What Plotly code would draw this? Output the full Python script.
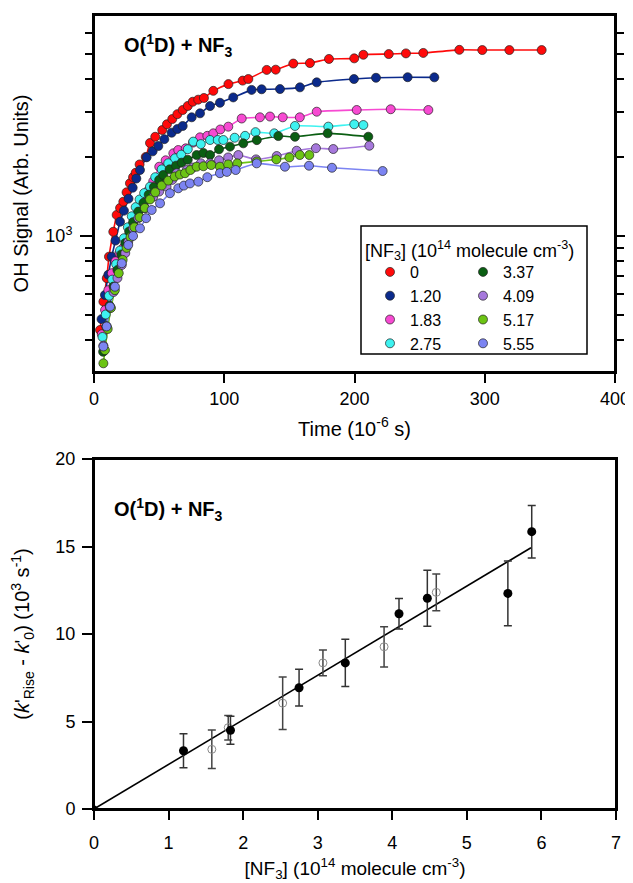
import plotly.graph_objects as go

# The page body adds an 8 px margin, so the figure is 8 px smaller than the window
W, H = 625, 883 - 8
OFF = 8
FONT = "Liberation Sans, Arial, sans-serif"

# ---------------- top panel data: OH signal vs time ----------------
conc_labels = ["0", "1.20", "1.83", "2.75", "3.37", "4.09", "5.17", "5.55"]
series_colors = ["#ff0a0a", "#0b2a8c", "#f74ad2", "#3ef2f0",
                 "#0a5e12", "#a678dc", "#6cc414", "#7c84f2"]

t_0 = [4.6, 7.2, 9.8, 11.5, 14.8, 17.4, 20, 22.5, 25, 27.6, 30, 32, 35, 39.7, 43, 47,
       52.4, 56, 60.1, 64, 68.1, 72, 75.8, 80, 84.4, 91.6, 103.2, 114.1, 118.5, 132.6,
       139.5, 153, 165.8, 180.4, 199.8, 206.8, 226.3, 239.5, 252.8, 280.5, 298.1, 318.9, 343.7]
s_0 = [436, 560, 689, 833, 1038, 1204, 1280, 1353, 1470, 1592, 1680, 1747, 1880, 2008, 2272, 2400,
       2547, 2680, 2807, 2930, 3040, 3150, 3270, 3330, 3380, 3600, 3820, 3940, 3996, 4330,
       4340, 4580, 4600, 4770, 4795, 4950, 4980, 5010, 5030, 5170, 5160, 5160, 5160]

t_1 = [5.8, 8.4, 11, 13.6, 16.5, 20, 23, 26.5, 29.7, 32.5, 35.3, 40.4, 45, 49.4, 54, 59.6,
       64, 68.1, 75, 81.4, 89.1, 96.7, 106.9, 121, 128.7, 142.8, 158.1, 171, 199.6, 216.5, 240.8, 261.3]
s_1 = [480, 594, 710, 833, 960, 1134, 1250, 1390, 1531, 1660, 1790, 2002, 2110, 2213, 2350, 2488,
       2570, 2640, 2850, 2952, 3148, 3240, 3397, 3630, 3650, 3657, 3713, 3880, 3996, 4040, 4060, 4056]

t_2 = [6, 8.5, 11, 13.7, 16.5, 19.5, 22.5, 25, 27.5, 30.1, 34, 37.8, 42, 45.5, 50.1, 55, 60.9,
       64.7, 70.4, 76, 81.4, 87, 91.6, 97, 103.1, 113.4, 127.4, 135.1, 144.9, 158, 171, 201.7, 227.8, 256.7]
s_2 = [420, 520, 620, 720, 800, 860, 900, 980, 1040, 1102, 1250, 1374, 1500, 1620, 1843, 1950, 2074,
       2135, 2167, 2280, 2388, 2420, 2474, 2560, 2624, 2820, 2850, 2870, 2850, 2850, 2995, 3040, 3060, 3040]

t_3 = [6.5, 9, 11.5, 14, 17, 20, 23, 26, 29, 32, 35, 38.5, 43, 47, 52, 57, 62.2, 67, 72, 76.2,
       82, 89.1, 95, 99.3, 108, 116, 124, 138.4, 154.3, 179.9, 199.8, 206.8]
s_3 = [410, 500, 590, 680, 780, 880, 980, 1080, 1190, 1290, 1380, 1460, 1545, 1680, 1800, 1900,
       1985, 2050, 2150, 2300, 2250, 2333, 2333, 2333, 2380, 2420, 2500, 2474, 2640, 2625, 2680, 2662]

t_4 = [7, 9.5, 12, 15, 18, 21, 24, 27, 30, 34, 38, 42, 46, 50, 53.2, 58, 63, 67.3, 72, 78.8,
       84, 89.1, 96, 104.4, 114.6, 125, 141.5, 154.3, 179.4, 210.6]
s_4 = [360, 450, 540, 640, 740, 850, 940, 1040, 1130, 1240, 1340, 1440, 1540, 1640, 1713, 1800,
       1860, 1910, 1960, 2043, 2080, 2043, 2150, 2200, 2265, 2330, 2415, 2400, 2474, 2402]

t_5 = [7.2, 9.7, 12.5, 15, 18, 21.3, 24, 26.3, 30, 34, 39.2, 45.5, 50, 55.7, 60, 63.5, 71.2,
       76, 82, 89.1, 96, 103, 110.8, 124.4, 140.3, 155.6, 170.4, 183.7, 211.4]
s_5 = [380, 450, 530, 610, 690, 774, 860, 951, 1070, 1170, 1276, 1414, 1480, 1545, 1640, 1740, 1790,
       1830, 1900, 1898, 1950, 2000, 2043, 1966, 2025, 2122, 2170, 2154, 2218]

t_6 = [7.2, 8.4, 10.5, 13, 16, 19, 22, 25, 28, 31, 35, 39, 43, 47, 52, 57, 62, 66, 69.9, 74,
       78.8, 84, 90, 96.7, 103, 110, 125, 140, 150, 158, 165.3]
s_6 = [325, 365, 440, 530, 620, 720, 810, 900, 990, 1080, 1180, 1280, 1380, 1470, 1560, 1630,
       1690, 1720, 1740, 1790, 1843, 1850, 1870, 1843, 1880, 1898, 1930, 1966, 2000, 2043, 2043]

t_7 = [7.2, 9.7, 12.3, 16.1, 21.3, 26.3, 30, 35.3, 40, 44.3, 50.7, 58.3, 64.7, 69, 73.7, 80.1,
       87, 96.7, 102, 108.8, 124.9, 146.6, 165.1, 182.7, 221.6]
s_7 = [377, 450, 536, 639, 786, 924, 1000, 1070, 1170, 1258, 1334, 1458, 1523, 1560, 1590, 1615,
       1680, 1740, 1760, 1790, 1898, 1843, 1859, 1826, 1774]

times = [t_0, t_1, t_2, t_3, t_4, t_5, t_6, t_7]
signals = [s_0, s_1, s_2, s_3, s_4, s_5, s_6, s_7]

top_xticks = [0, 100, 200, 300, 400]
top_ymajor = [1000]
top_ymajor_text = ["10<sup>3</sup>"]
top_yminor = [400, 500, 600, 700, 800, 900, 2000, 3000, 4000, 5000, 6000]

# ---------------- bottom panel data: k'rise - k'0 vs [NF3] ----------------
origin_x = [0]
origin_y = [0]
filled_x = [1.20, 1.83, 2.75, 3.37, 4.09, 4.47, 5.55, 5.87]
filled_y = [3.33, 4.50, 6.93, 8.35, 11.16, 12.04, 12.32, 15.85]
filled_err = [0.97, 0.80, 1.05, 1.35, 0.87, 1.60, 1.85, 1.50]
open_x = [1.58, 1.80, 2.53, 3.07, 3.89, 4.59]
open_y = [3.41, 4.65, 6.05, 8.35, 9.27, 12.38]
open_err = [1.10, 0.70, 1.50, 0.73, 1.15, 1.05]
fit_x = [0, 5.86]
fit_y = [0, 14.93]

# ---------------- layout helpers (window pixel -> paper) ----------------
def px(x):
    return (x - OFF) / W

def py(y):
    return 1 - (y - OFF) / H

fig = go.Figure()

# fitted curves through each kinetic trace (no legend entry)
for lab, col, tt, ss in zip(conc_labels, series_colors, times, signals):
    fig.add_trace(go.Scatter(
        x=tt, y=ss, mode="lines", showlegend=False, hoverinfo="skip",
        line=dict(color=col, width=1.6, shape="spline", smoothing=0.5),
        xaxis="x", yaxis="y"))

# data markers (legend entries)
for i, (lab, col, tt, ss) in enumerate(zip(conc_labels, series_colors, times, signals)):
    fig.add_trace(go.Scatter(
        x=tt, y=ss, mode="markers", name=lab,
        marker=dict(color=col, size=9, line=dict(color="#222222", width=0.7)),
        xaxis="x", yaxis="y",
        legend="legend" if i < 4 else "legend2",
    ))

# bottom panel
fig.add_trace(go.Scatter(x=fit_x, y=fit_y, mode="lines", line=dict(color="black", width=1.6),
                         xaxis="x2", yaxis="y2", showlegend=False))
fig.add_trace(go.Scatter(
    x=open_x, y=open_y, mode="markers", showlegend=False,
    marker=dict(symbol="circle-open", size=8, color="#8a8a8a", line=dict(width=1)),
    error_y=dict(type="data", array=open_err, color="#444444", thickness=1.5, width=4),
    xaxis="x2", yaxis="y2"))
fig.add_trace(go.Scatter(
    x=filled_x, y=filled_y, mode="markers", showlegend=False,
    marker=dict(symbol="circle", size=9, color="black"),
    error_y=dict(type="data", array=filled_err, color="#333333", thickness=1.5, width=4),
    xaxis="x2", yaxis="y2"))
fig.add_trace(go.Scatter(x=origin_x, y=origin_y, mode="markers", showlegend=False,
                         marker=dict(size=7, color="black"), xaxis="x2", yaxis="y2"))

axis_common = dict(showline=True, linecolor="black", linewidth=2, showgrid=False,
                   zeroline=False, ticks="outside", tickcolor="black", tickwidth=1.5,
                   automargin=False,
                   tickfont=dict(family=FONT, size=18, color="black"))

frame = dict(color="black", width=2)

fig.update_layout(
    width=W, height=H,
    margin=dict(l=0, r=0, t=0, b=0, autoexpand=False),
    paper_bgcolor="white", plot_bgcolor="white",
    font=dict(family=FONT, size=18, color="black"),
    xaxis=dict(domain=[px(94), px(615)], anchor="y", range=[0, 400],
               tickmode="array", tickvals=top_xticks, ticklen=9, mirror=True,
               ticklabelstandoff=0,
               title=dict(text="Time (10<sup>-6</sup> s)", standoff=14,
                          font=dict(family=FONT, size=20)),
               **axis_common),
    yaxis=dict(domain=[py(372), py(15)], anchor="x", type="log",
               range=[2.4786, 3.847], tickmode="array", tickvals=top_ymajor,
               ticktext=top_ymajor_text, ticklen=12, mirror="ticks",
               ticklabelstandoff=4,
               minor=dict(tickmode="array", tickvals=top_yminor, ticklen=7,
                          ticks="outside", tickcolor="black", tickwidth=1.5),
               title=dict(text="OH Signal (Arb. Units)", standoff=11,
                          font=dict(family=FONT, size=20)),
               **axis_common),
    xaxis2=dict(domain=[px(94), px(616)], anchor="y2", range=[0, 7], dtick=1,
                ticklen=9, mirror=True, ticklabelstandoff=7,
                title=dict(text="[NF<sub>3</sub>] (10<sup>14</sup> molecule cm<sup>-3</sup>)",
                           standoff=10, font=dict(family=FONT, size=19)),
                **axis_common),
    yaxis2=dict(domain=[py(809), py(459)], anchor="x2", range=[0, 20], dtick=5,
                ticklen=10, mirror=True, ticklabelstandoff=3,
                title=dict(text="(<i>k</i>'<sub>Rise</sub> - <i>k</i>'<sub>0</sub>) (10<sup>3</sup> s<sup>-1</sup>)",
                           standoff=21, font=dict(family=FONT, size=20)),
                **axis_common),
    legend=dict(x=px(370), y=py(255), xanchor="left", yanchor="top",
                bgcolor="rgba(0,0,0,0)", borderwidth=0, tracegroupgap=0,
                font=dict(family=FONT, size=16), itemwidth=30),
    legend2=dict(x=px(463), y=py(255), xanchor="left", yanchor="top",
                 bgcolor="rgba(0,0,0,0)", borderwidth=0, tracegroupgap=0,
                 font=dict(family=FONT, size=16), itemwidth=30),
    shapes=[
        dict(type="rect", xref="paper", yref="paper",
             x0=px(361), x1=px(587), y0=py(354), y1=py(226),
             line=dict(color="black", width=1.5), fillcolor="rgba(0,0,0,0)"),
        dict(type="rect", xref="x domain", yref="y domain", x0=0, x1=1, y0=0, y1=1,
             line=frame, fillcolor="rgba(0,0,0,0)", layer="above"),
        dict(type="rect", xref="x2 domain", yref="y2 domain", x0=0, x1=1, y0=0, y1=1,
             line=frame, fillcolor="rgba(0,0,0,0)", layer="above"),
    ],
    annotations=[
        dict(text="[NF<sub>3</sub>] (10<sup>14</sup> molecule cm<sup>-3</sup>)",
             xref="paper", yref="paper", x=px(363), y=py(250), xanchor="left",
             yanchor="middle", showarrow=False, font=dict(family=FONT, size=18)),
        dict(text="<b>O(<sup>1</sup>D) + NF<sub>3</sub></b>", xref="paper", yref="paper",
             x=px(122), y=py(46), xanchor="left", yanchor="middle", showarrow=False,
             font=dict(family=FONT, size=20)),
        dict(text="<b>O(<sup>1</sup>D) + NF<sub>3</sub></b>", xref="paper", yref="paper",
             x=px(112), y=py(509), xanchor="left", yanchor="middle", showarrow=False,
             font=dict(family=FONT, size=20)),
    ],
)

fig.write_html("out.html")
